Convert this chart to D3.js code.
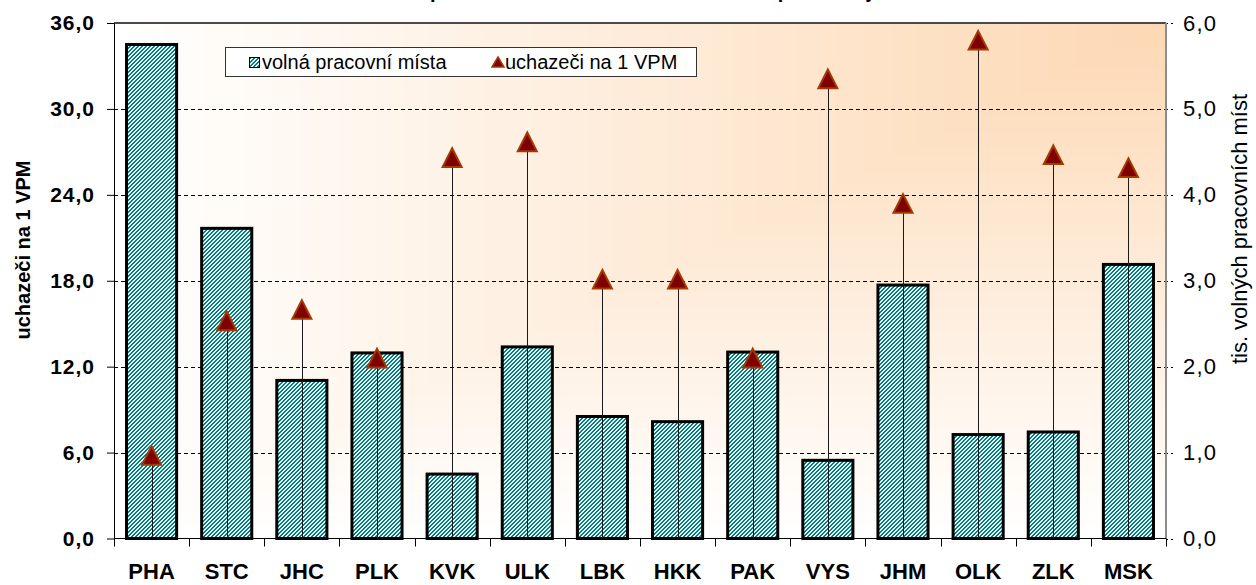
<!DOCTYPE html>
<html>
<head>
<meta charset="utf-8">
<script src="https://cdn.jsdelivr.net/npm/d3@7"></script>
<style>
  body { margin: 0; background: #fff; }
  svg { display: block; font-family: Arial, "Liberation Sans", sans-serif; }
</style>
</head>
<body>
<svg id="chart" width="1256" height="585"></svg>
<script>
// kraje
const categories = ["PHA", "STC", "JHC", "PLK", "KVK", "ULK", "LBK", "HKK", "PAK", "VYS", "JHM", "OLK", "ZLK", "MSK"];
// volná pracovní místa (tis.) - pravá osa
const vacancies = [5.75, 3.61, 1.84, 2.16, 0.75, 2.23, 1.42, 1.36, 2.17, 0.91, 2.95, 1.21, 1.24, 3.19];
// uchazeči na 1 VPM - levá osa
const applicants = [5.8, 15.2, 16.0, 12.6, 26.6, 27.7, 18.1, 18.1, 12.6, 32.1, 23.4, 34.8, 26.8, 25.9];
const leftTicks = [0, 6, 12, 18, 24, 30, 36];
const rightTicks = [0, 1, 2, 3, 4, 5, 6];

const title = "Volná pracovní místa a uchazeči na 1 VPM podle krajů";
const seriesNames = ["volná pracovní místa", "uchazeči na 1 VPM"];

const width = 1256, height = 585;
const margin = {top: 23, right: 90, bottom: 46.5, left: 114};
const plotW = width - margin.left - margin.right;
const plotH = height - margin.top - margin.bottom;

const svg = d3.select("#chart");
const defs = svg.append("defs");

// upward diagonal hatch like the excel pattern
const hatch = defs.append("pattern")
  .attr("id", "hatch")
  .attr("patternUnits", "userSpaceOnUse")
  .attr("width", 4).attr("height", 4);
hatch.append("rect").attr("width", 4).attr("height", 4).attr("fill", "#eef7f7");
d3.range(4).forEach(r => {
  [(3 - r) % 4, (4 - r) % 4].forEach(c => {
    hatch.append("rect").attr("x", c).attr("y", r).attr("width", 1).attr("height", 1).attr("fill", "#008080");
  });
});

const x = d3.scaleBand()
  .domain(categories)
  .range([margin.left, margin.left + plotW])
  .paddingInner(1 / 3)
  .paddingOuter(1 / 6);

const yLeft = d3.scaleLinear().domain([0, 36]).range([margin.top + plotH, margin.top]);
const yRight = d3.scaleLinear().domain([0, 6]).range([margin.top + plotH, margin.top]);

const x0 = margin.left, x1 = margin.left + plotW;
const yBase = margin.top + plotH;

// background - gradient from top right corner
const bg = svg.append("g");
const peach = d3.interpolateRgb("#fdd8b3", "#ffffff");
const steps = d3.range(80, 0, -1).map(i => i / 80);
bg.selectAll("rect")
  .data(steps)
  .enter()
  .append("rect")
  .attr("x", s => x1 - plotW * s)
  .attr("y", margin.top)
  .attr("width", s => plotW * s)
  .attr("height", s => plotH * s)
  .attr("fill", s => peach(s));

// gridlines
svg.append("g")
  .selectAll("line")
  .data(leftTicks.filter(d => d > 0 && d < 36))
  .enter()
  .append("line")
  .attr("x1", x0).attr("x2", x1 + 7)
  .attr("y1", d => Math.round(yLeft(d)) + 0.5)
  .attr("y2", d => Math.round(yLeft(d)) + 0.5)
  .attr("stroke", "#000")
  .attr("stroke-dasharray", "4,3");

// right axis ticks (dotted)
svg.append("g")
  .selectAll("line")
  .data(rightTicks)
  .enter()
  .append("line")
  .attr("x1", x1).attr("x2", x1 + 7)
  .attr("y1", d => Math.round(yRight(d)) + 0.5)
  .attr("y2", d => Math.round(yRight(d)) + 0.5)
  .attr("stroke", "#000")
  .attr("stroke-dasharray", "2,3");

// plot border top + right
svg.append("line")
  .attr("x1", x0).attr("x2", x1).attr("y1", margin.top).attr("y2", margin.top)
  .attr("stroke", "#4a4a4a").attr("stroke-width", 2);
svg.append("line")
  .attr("x1", x1).attr("x2", x1).attr("y1", margin.top).attr("y2", yBase)
  .attr("stroke", "#8c8c8c").attr("stroke-width", 2);

// bars
svg.append("g")
  .selectAll("rect")
  .data(categories)
  .enter()
  .append("rect")
  .attr("x", d => x(d))
  .attr("y", (d, i) => yRight(vacancies[i]))
  .attr("width", x.bandwidth())
  .attr("height", (d, i) => yBase - yRight(vacancies[i]))
  .attr("fill", "url(#hatch)")
  .attr("stroke", "#000")
  .attr("stroke-width", 3);

// drop lines
svg.append("g")
  .selectAll("line")
  .data(categories)
  .enter()
  .append("line")
  .attr("x1", d => Math.round(x(d) + x.bandwidth() / 2) + 0.5)
  .attr("x2", d => Math.round(x(d) + x.bandwidth() / 2) + 0.5)
  .attr("y1", (d, i) => yLeft(applicants[i]))
  .attr("y2", yBase)
  .attr("stroke", "#1a1a1a")
  .attr("stroke-width", 1);

// triangle markers
const tri = "M0,-9.3L9.5,9.3L-9.5,9.3Z";
svg.append("g")
  .selectAll("path")
  .data(categories)
  .enter()
  .append("path")
  .attr("d", tri)
  .attr("transform", (d, i) => "translate(" + (x(d) + x.bandwidth() / 2) + "," + yLeft(applicants[i]) + ")")
  .attr("fill", "#800000")
  .attr("stroke", "#a33a00")
  .attr("stroke-width", 2)
  .attr("stroke-linejoin", "miter");

// left axis
const fmt = d => d.toFixed(1).replace(".", ",");
const leftAxis = svg.append("g")
  .attr("transform", "translate(" + x0 + ",0)")
  .call(d3.axisLeft(yLeft).tickValues(leftTicks).tickFormat(fmt).tickSize(7).tickSizeOuter(0).tickPadding(12));
leftAxis.select(".domain").attr("stroke", "#000");
leftAxis.selectAll("text")
  .attr("fill", "#000")
  .style("font-size", "21px")
  .style("font-weight", "bold")
  .style("letter-spacing", "1px")
  .style("font-family", "Arial, 'Liberation Sans', sans-serif");

// right axis labels
const rightAxis = svg.append("g")
  .attr("transform", "translate(" + x1 + ",0)")
  .call(d3.axisRight(yRight).tickValues(rightTicks).tickFormat(fmt).tickSize(0).tickPadding(17));
rightAxis.select(".domain").remove();
rightAxis.selectAll("text")
  .attr("fill", "#000")
  .style("font-size", "22px")
  .style("letter-spacing", "1.2px")
  .style("font-family", "Arial, 'Liberation Sans', sans-serif");

// category axis
svg.append("line")
  .attr("x1", x0).attr("x2", x1).attr("y1", yBase).attr("y2", yBase)
  .attr("stroke", "#000");
const xTickPos = categories.map(d => x(d) - x.step() * x.paddingInner() / 2).concat([x1]);
svg.append("g")
  .selectAll("line")
  .data(xTickPos)
  .enter()
  .append("line")
  .attr("x1", d => Math.round(d) + 0.5).attr("x2", d => Math.round(d) + 0.5)
  .attr("y1", yBase).attr("y2", yBase + 8)
  .attr("stroke", "#000");
const bottomAxis = svg.append("g")
  .attr("transform", "translate(0," + yBase + ")")
  .call(d3.axisBottom(x).tickSize(0).tickPadding(25));
bottomAxis.select(".domain").remove();
bottomAxis.selectAll("text")
  .attr("fill", "#000")
  .style("font-size", "22px")
  .style("font-weight", "bold")
  .style("font-family", "Arial, 'Liberation Sans', sans-serif");

// axis titles
svg.append("text")
  .attr("transform", "translate(30,250) rotate(-90)")
  .attr("text-anchor", "middle")
  .style("font-size", "20px")
  .style("font-weight", "bold")
  .text("uchazeči na 1 VPM");

svg.append("text")
  .attr("transform", "translate(1247,229) rotate(-90)")
  .attr("text-anchor", "middle")
  .style("font-size", "22px")
  .text("tis. volných pracovních míst");

// chart title (cut off at the top like in the source)
svg.append("text")
  .attr("x", width / 2)
  .attr("y", -2)
  .attr("text-anchor", "middle")
  .style("font-size", "20px")
  .style("font-weight", "bold")
  .text(title);

// legend
const legend = svg.append("g");
legend.append("rect")
  .attr("x", 225.5).attr("y", 47.5).attr("width", 471).attr("height", 29)
  .attr("fill", "#fff").attr("stroke", "#333");
legend.append("rect")
  .attr("x", 249.5).attr("y", 57.5).attr("width", 10).attr("height", 10)
  .attr("fill", "url(#hatch)").attr("stroke", "#000");
legend.append("text")
  .attr("x", 262).attr("y", 69)
  .style("font-size", "20px")
  .text(seriesNames[0]);
legend.append("path")
  .attr("d", "M0,-5L6,5L-6,5Z")
  .attr("transform", "translate(498,62)")
  .attr("fill", "#800000")
  .attr("stroke", "#a33a00")
  .attr("stroke-width", 1.5);
legend.append("text")
  .attr("x", 505).attr("y", 69)
  .style("font-size", "20px")
  .text(seriesNames[1]);
</script>
</body>
</html>
